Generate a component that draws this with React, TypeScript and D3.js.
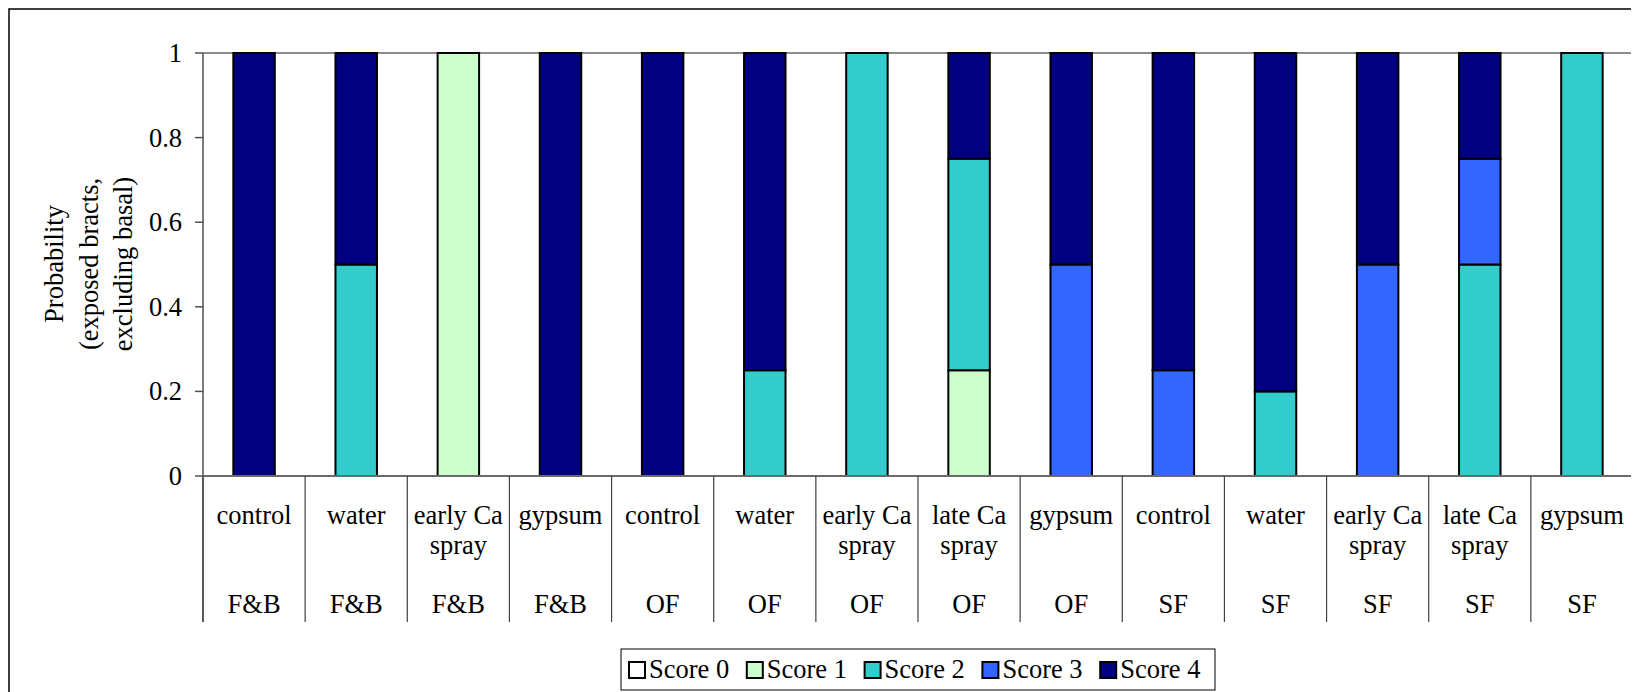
import React from "react";
import * as d3 from "d3";

const treatments = ["control", "water", "early Ca spray", "gypsum", "control", "water", "early Ca spray", "late Ca spray", "gypsum", "control", "water", "early Ca spray", "late Ca spray", "gypsum"];
const treatmentLines = [["control"], ["water"], ["early Ca", "spray"], ["gypsum"], ["control"], ["water"], ["early Ca", "spray"], ["late Ca", "spray"], ["gypsum"], ["control"], ["water"], ["early Ca", "spray"], ["late Ca", "spray"], ["gypsum"]];
const sites = ["F&B", "F&B", "F&B", "F&B", "OF", "OF", "OF", "OF", "OF", "SF", "SF", "SF", "SF", "SF"];

const score0 = [0, 0, 0, 0, 0, 0, 0, 0, 0, 0, 0, 0, 0, 0];
const score1 = [0, 0, 1, 0, 0, 0, 0, 0.25, 0, 0, 0, 0, 0, 0];
const score2 = [0, 0.5, 0, 0, 0, 0.25, 1, 0.5, 0, 0, 0.2, 0, 0.5, 1];
const score3 = [0, 0, 0, 0, 0, 0, 0, 0, 0.5, 0.25, 0, 0.5, 0.25, 0];
const score4 = [1, 0.5, 0, 1, 1, 0.75, 0, 0.25, 0.5, 0.75, 0.8, 0.5, 0.25, 0];

const seriesNames = ["Score 0", "Score 1", "Score 2", "Score 3", "Score 4"];
const seriesColors = ["#FFFFFF", "#CCFFCC", "#33CCCC", "#3366FF", "#000080"];
const yTicks = [0, 0.2, 0.4, 0.6, 0.8, 1];

const FONT = "'Liberation Serif', 'Times New Roman', serif";
const FS = 26.5;

export default function App() {
  const W = 1631;
  const H = 684;
  const left = 203, right = 1633, top = 53, bottom = 476;

  const rows = treatments.map((t, i) => ({
    idx: String(i),
    "Score 0": score0[i],
    "Score 1": score1[i],
    "Score 2": score2[i],
    "Score 3": score3[i],
    "Score 4": score4[i],
  }));
  const stacked = d3.stack<any>().keys(seriesNames)(rows);

  const x = d3.scaleBand<string>()
    .domain(rows.map((r) => r.idx))
    .range([left, right])
    .paddingInner(0.594)
    .paddingOuter(0.297);
  const y = d3.scaleLinear().domain([0, 1]).range([bottom, top]);
  const step = x.step();

  const legendX = 629, legendStep = 117.8;

  return (
    <svg width={W} height={H} style={{ display: "block" }} fontFamily={FONT}>
      <g transform="translate(-8,-8)">
        <rect x={9} y={9} width={1700} height={800} fill="#fff" stroke="#000" strokeWidth={1.5} />
        {/* plot area border top/right */}
        <line x1={left} x2={right} y1={y(1)} y2={y(1)} stroke="#8c8c8c" strokeWidth={2} />
        <line x1={right} x2={right} y1={y(1)} y2={bottom} stroke="#8c8c8c" strokeWidth={2} />
        {/* bars */}
        {stacked.map((s, si) => (
          <g key={si}>
            {s.map((d, i) => {
              const h = y(d[0]) - y(d[1]);
              if (h <= 0) return null;
              return (
                <rect key={i} x={x(rows[i].idx)} y={y(d[1])} width={x.bandwidth()} height={h}
                  fill={seriesColors[si]} stroke="#000" strokeWidth={2} />
              );
            })}
          </g>
        ))}
        {/* y axis */}
        <line x1={left} x2={left} y1={top} y2={622} stroke="#505050" strokeWidth={1.5} />
        {yTicks.map((t) => (
          <g key={t}>
            <line x1={195} x2={left} y1={y(t)} y2={y(t)} stroke="#505050" strokeWidth={1.5} />
            <text x={182} y={y(t) + 9} textAnchor="end" fontSize={FS}>{String(t)}</text>
          </g>
        ))}
        {/* x axis */}
        <line x1={left} x2={right} y1={bottom} y2={bottom} stroke="#6a6a6a" strokeWidth={2} />
        {d3.range(treatments.length + 1).map((k) => (
          <line key={k} x1={left + k * step} x2={left + k * step} y1={bottom} y2={622} stroke="#404040" strokeWidth={1.2} />
        ))}
        {rows.map((r, i) => {
          const cx = (x(r.idx) as number) + x.bandwidth() / 2;
          return (
            <g key={i} fontSize={FS} textAnchor="middle">
              {treatmentLines[i].map((ln, j) => (
                <text key={j} x={cx} y={524 + j * 30}>{ln}</text>
              ))}
              <text x={cx} y={613}>{sites[i]}</text>
            </g>
          );
        })}
        {/* y label */}
        <g transform="translate(0,264)">
          {["Probability", "(exposed bracts,", "excluding basal)"].map((ln, j) => (
            <text key={j} transform={`translate(${54 + j * 34.5},0) rotate(-90)`} textAnchor="middle"
              dominantBaseline="central" fontSize={FS}>{ln}</text>
          ))}
        </g>
        {/* legend */}
        <rect x={621} y={649} width={594} height={41} fill="#fff" stroke="#000" strokeWidth={1} />
        {seriesNames.map((n, i) => (
          <g key={n}>
            <rect x={legendX + i * legendStep} y={662} width={16} height={16} fill={seriesColors[i]} stroke="#000" strokeWidth={2} />
            <text x={legendX + i * legendStep + 20} y={678} fontSize={FS}>{n}</text>
          </g>
        ))}
      </g>
    </svg>
  );
}
